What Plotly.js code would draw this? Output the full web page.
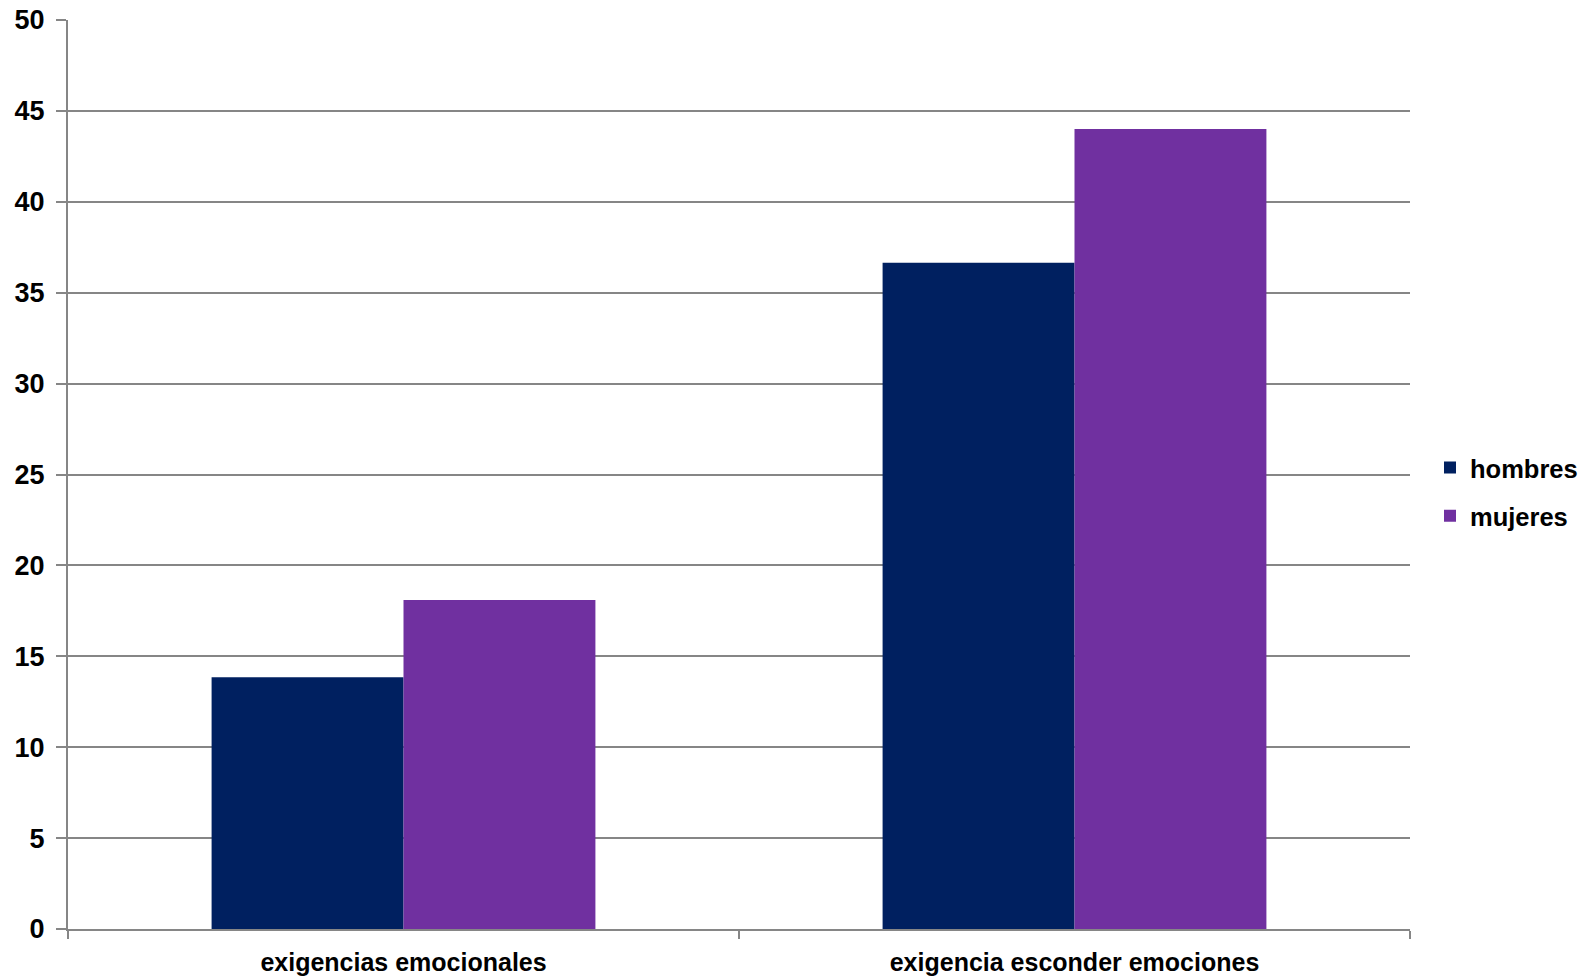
<!DOCTYPE html>
<html>
<head>
<meta charset="utf-8">
<script src="https://cdn.plot.ly/plotly-3.0.1.min.js"></script>
<style>html,body{margin:0;padding:0;background:#fff;}#chart{width:1583px;height:978px;}</style>
</head>
<body>
<div id="chart"></div>
<script>
var categories = ["exigencias emocionales", "exigencia esconder emociones"];
var seriesNames = ["hombres", "mujeres"];
var hombres = [13.85, 36.65];
var mujeres = [18.1, 44.0];
var yTicks = [0, 5, 10, 15, 20, 25, 30, 35, 40, 45, 50];

var fam = "Liberation Sans, Arial, sans-serif";
var gridColor = "#868686";

var traces = [
  {type: "bar", name: seriesNames[0], x: categories, y: hombres, marker: {color: "#002060"}, legendgroup: "a", hoverinfo: "y"},
  {type: "bar", name: seriesNames[1], x: categories, y: mujeres, marker: {color: "#7030A0"}, legendgroup: "b", hoverinfo: "y"}
];

var layout = {
  width: 1583, height: 978,
  margin: {l: 68, r: 173, t: 20, b: 49},
  paper_bgcolor: "#fff", plot_bgcolor: "#fff",
  font: {family: fam, size: 25, color: "#000"},
  barmode: "group",
  bargap: 0.428,
  bargroupgap: 0,
  showlegend: true,
  legend: {
    xref: "container", yref: "container",
    x: 1430 / 1583, xanchor: "left",
    y: 1 - 492 / 978, yanchor: "middle",
    traceorder: "grouped", tracegroupgap: 12,
    font: {family: fam, size: 25.5, color: "#000", weight: "bold"},
    bgcolor: "rgba(0,0,0,0)"
  },
  xaxis: {
    type: "category",
    showline: true, linecolor: gridColor, linewidth: 2,
    ticks: "outside", tickson: "boundaries", ticklen: 8, tickwidth: 2, tickcolor: gridColor,
    showgrid: false,
    tickfont: {family: fam, size: 25, color: "#000", weight: "bold"},
    ticklabelstandoff: 10,
    fixedrange: true
  },
  yaxis: {
    range: [0, 50],
    tickvals: yTicks,
    ticktext: yTicks.map(String),
    showline: true, linecolor: gridColor, linewidth: 2,
    ticks: "outside", ticklen: 10, tickwidth: 2, tickcolor: gridColor,
    showgrid: true, gridcolor: gridColor, gridwidth: 2,
    zeroline: false,
    tickfont: {family: fam, size: 27, color: "#000", weight: "bold"},
    ticklabelstandoff: 6,
    fixedrange: true
  }
};

Plotly.newPlot("chart", traces, layout, {displayModeBar: false, staticPlot: true});
</script>
</body>
</html>
